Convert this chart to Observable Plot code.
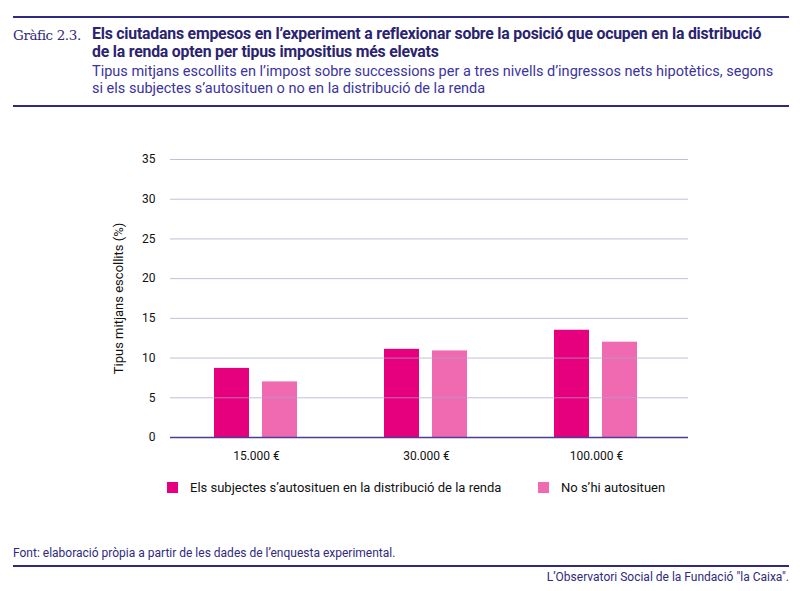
<!DOCTYPE html>
<html>
<head>
<meta charset="utf-8">
<script src="https://cdn.jsdelivr.net/npm/d3@7"></script>
<script src="https://cdn.jsdelivr.net/npm/@observablehq/plot@0.6"></script>
<style>
  html, body { margin: 0; padding: 0; background: #fff; }
  body { width: 800px; height: 591px; position: relative; overflow: hidden; font-family: Roboto, "Liberation Sans", sans-serif; }
  .hline { position: absolute; left: 13px; width: 776px; height: 2px; background: #2f2a80; }
  .num { position: absolute; left: 13px; top: 27px; font-family: "DejaVu Serif", "Liberation Serif", serif; font-size: 13.5px; color: #2f2a80; letter-spacing: -0.4px; }
  .title { position: absolute; left: 92px; top: 25px; width: 700px; font-size: 15.8px; font-weight: bold; line-height: 18px; color: #2a2370; letter-spacing: -0.2px; white-space: nowrap; }
  .subtitle { position: absolute; left: 92px; top: 63px; width: 700px; font-size: 14.5px; line-height: 17px; color: #3b33a0; white-space: nowrap; }
  #chart { position: absolute; left: 0; top: 120px; }
  .legend { position: absolute; top: 480px; font-size: 13px; color: #111; display: flex; align-items: center; }
  .legend span.sw { display: inline-block; width: 11px; height: 11px; margin-right: 12px; }
  .source { position: absolute; left: 13px; top: 546px; font-size: 12px; color: #2f2a80; }
  .credit { position: absolute; right: 11px; top: 570px; font-size: 12px; color: #2f2a80; }
</style>
</head>
<body>
<div class="hline" style="top:16px"></div>
<div class="num">Gràfic 2.3.</div>
<div class="title">Els ciutadans empesos en l’experiment a reflexionar sobre la posició que ocupen en la distribució<br>de la renda opten per tipus impositius més elevats</div>
<div class="subtitle">Tipus mitjans escollits en l’impost sobre successions per a tres nivells d’ingressos nets hipotètics, segons<br>si els subjectes s’autosituen o no en la distribució de la renda</div>
<div class="hline" style="top:105px"></div>
<div id="chart"></div>
<div id="legend"></div>
<div class="source">Font: elaboració pròpia a partir de les dades de l’enquesta experimental.</div>
<div class="hline" style="top:565px"></div>
<div class="credit">L’Observatori Social de la Fundació "la Caixa".</div>
<script>
const incomes = ["15.000 €", "30.000 €", "100.000 €"];
const seriesNames = ["Els subjectes s’autosituen en la distribució de la renda", "No s’hi autosituen"];
const selfPlaced = [8.7, 11.1, 13.5];
const notSelfPlaced = [7.0, 10.9, 12.0];
const yTicks = [0, 5, 10, 15, 20, 25, 30, 35];
const colors = ["#e6007e", "#f06ab2"];

const data = incomes.flatMap((inc, i) => [
  {income: inc, series: seriesNames[0], value: selfPlaced[i]},
  {income: inc, series: seriesNames[1], value: notSelfPlaced[i]}
]);

const chart = Plot.plot({
  width: 800,
  height: 347,
  marginLeft: 170,
  marginRight: 112,
  marginTop: 39,
  marginBottom: 30,
  style: {fontFamily: "Roboto, 'Liberation Sans', sans-serif", fontSize: "12px", color: "#111", background: "transparent"},
  x: {domain: incomes, padding: 0, insetRight: 6, label: null, tickSize: 0, tickPadding: 14},
  y: {domain: [0, 35], ticks: yTicks, tickSize: 0, tickPadding: 15, label: null},
  color: {domain: seriesNames, range: colors},
  marks: [
    Plot.barY(data.filter(d => d.series === seriesNames[0]), {x: "income", y: "value", fill: "series", insetLeft: 43, insetRight: 92}),
    Plot.barY(data.filter(d => d.series === seriesNames[1]), {x: "income", y: "value", fill: "series", insetLeft: 91, insetRight: 44}),
    Plot.ruleY(yTicks.filter(t => t > 0), {stroke: "#a9a2cc", strokeOpacity: 0.7, strokeWidth: 1}),
    Plot.ruleY([0], {stroke: "#4a3f91", strokeWidth: 1.5}),
    Plot.text(["Tipus mitjans escollits (%)"], {frameAnchor: "left", textAnchor: "middle", dx: -52, rotate: -90, fontSize: 13, fill: "#111"})
  ]
});
document.getElementById("chart").appendChild(chart);

const legendPos = [167, 538];
const lg = document.getElementById("legend");
seriesNames.forEach((s, i) => {
  const d = document.createElement("div");
  d.className = "legend";
  d.style.left = legendPos[i] + "px";
  d.innerHTML = `<span class="sw" style="background:${colors[i]}"></span>${s}`;
  lg.appendChild(d);
});
</script>
</body>
</html>
